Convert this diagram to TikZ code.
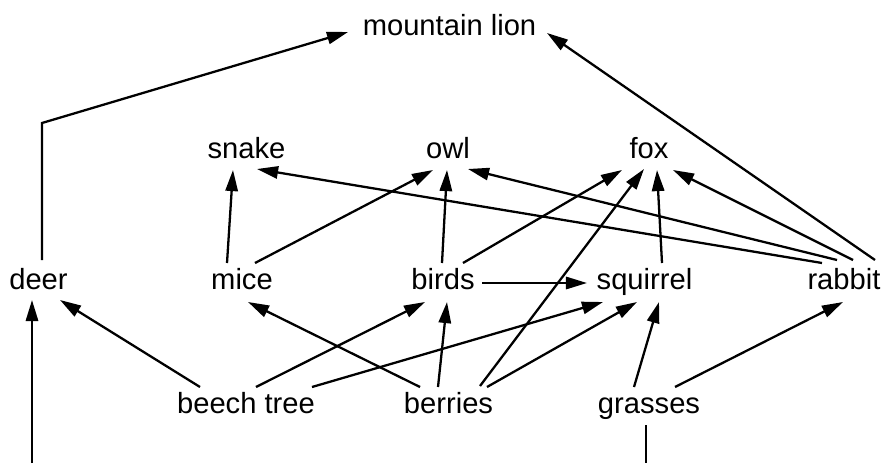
\documentclass[tikz,border=0pt]{standalone}
\usepackage{fontspec}
\setmainfont{Liberation Sans}
\usetikzlibrary{arrows.meta}

\tikzset{
  animal/.style={anchor=base, inner sep=0pt, font=\fontsize{16.6}{20}\selectfont},
  eats/.style={-{Triangle[length=12pt,width=7pt]}, line width=1.3pt},
}

\begin{document}
\begin{tikzpicture}[x=0.02cm, y=-0.02cm, line width=1.3pt]
       \useasboundingbox (0,0) rectangle (885,463);
       \node[animal] (lion) at (449.5,35) {mountain lion};
       \node[animal] (snake) at (246.5,158) {snake}; \node[animal] (owl) at (448,158) {owl};
       \node[animal] (fox) at (649,158) {fox};
       \node[animal] (deer) at (38.5,289) {deer}; \node[animal] (mice) at (242,289) {mice};
       \node[animal] (birds) at (443,289) {birds}; \node[animal] (squirrel) at (644.5,289) {squirrel};
       \node[animal] (rabbit) at (844,289) {rabbit};
       \node[animal] (beech) at (246,413) {beech tree}; \node[animal] (berries) at (448.5,413) {berries};
       \node[animal] (grasses) at (649,413) {grasses};
       \coordinate (deerin) at (32,463); \coordinate (grassout) at (646,463);

       % to the mountain lion
       \draw[eats] ([shift={(3.5,-29)}]deer.base) -- ([shift={(3.5,-166)}]deer.base)
              -- ([shift={(-101.5,-3)}]lion.base);
       \draw[eats] ([shift={(31,-29)}]rabbit.base) -- ([shift={(97.5,-2)}]lion.base);
       % middle row up to the top row
       \draw[eats] ([shift={(-15,-26)}]mice.base) -- ([shift={(-13.5,12)}]snake.base);
       \draw[eats] ([shift={(13,-26)}]mice.base) -- ([shift={(-15,12)}]owl.base);
       \draw[eats] ([shift={(-1,-26)}]birds.base) -- ([shift={(-1,12)}]owl.base);
       \draw[eats] ([shift={(20,-26)}]birds.base) -- ([shift={(-27,12)}]fox.base);
       \draw[eats] ([shift={(17.5,-26)}]squirrel.base) -- ([shift={(8,12)}]fox.base);
       \draw[eats] ([shift={(9,-29)}]rabbit.base) -- ([shift={(24,12)}]fox.base);
       \draw[eats] ([shift={(-7,-29)}]rabbit.base) -- ([shift={(20,11)}]owl.base);
       \draw[eats] ([shift={(-22,-26)}]rabbit.base) -- ([shift={(10.5,11)}]snake.base);
       \draw[eats] ([shift={(39,-6)}]birds.base) -- ([shift={(-57.5,-6)}]squirrel.base);
       % plants up
       \draw[eats] (deerin) -- ([shift={(-6.5,11)}]deer.base);
       \draw[eats] ([shift={(-46,-26)}]beech.base) -- ([shift={(21.5,11)}]deer.base);
       \draw[eats] ([shift={(10,-26)}]beech.base) -- ([shift={(-18,13)}]birds.base);
       \draw[eats] ([shift={(66,-26)}]beech.base) -- ([shift={(-41.5,13)}]squirrel.base);
       \draw[eats] ([shift={(-28.5,-26)}]berries.base) -- ([shift={(6,13)}]mice.base);
       \draw[eats] ([shift={(-10.5,-26)}]berries.base) -- ([shift={(4,13)}]birds.base);
       \draw[eats] ([shift={(31.5,-27)}]berries.base) -- ([shift={(-5,11)}]fox.base);
       \draw[eats] ([shift={(38.5,-26)}]berries.base) -- ([shift={(-7.5,13)}]squirrel.base);
       \draw[eats] ([shift={(-15,-26)}]grasses.base) -- ([shift={(14.5,13)}]squirrel.base);
       \draw[eats] ([shift={(26,-26)}]grasses.base) -- ([shift={(-1,13)}]rabbit.base);
       \draw ([shift={(-3,12)}]grasses.base) -- (grassout);
\end{tikzpicture}
\end{document}
